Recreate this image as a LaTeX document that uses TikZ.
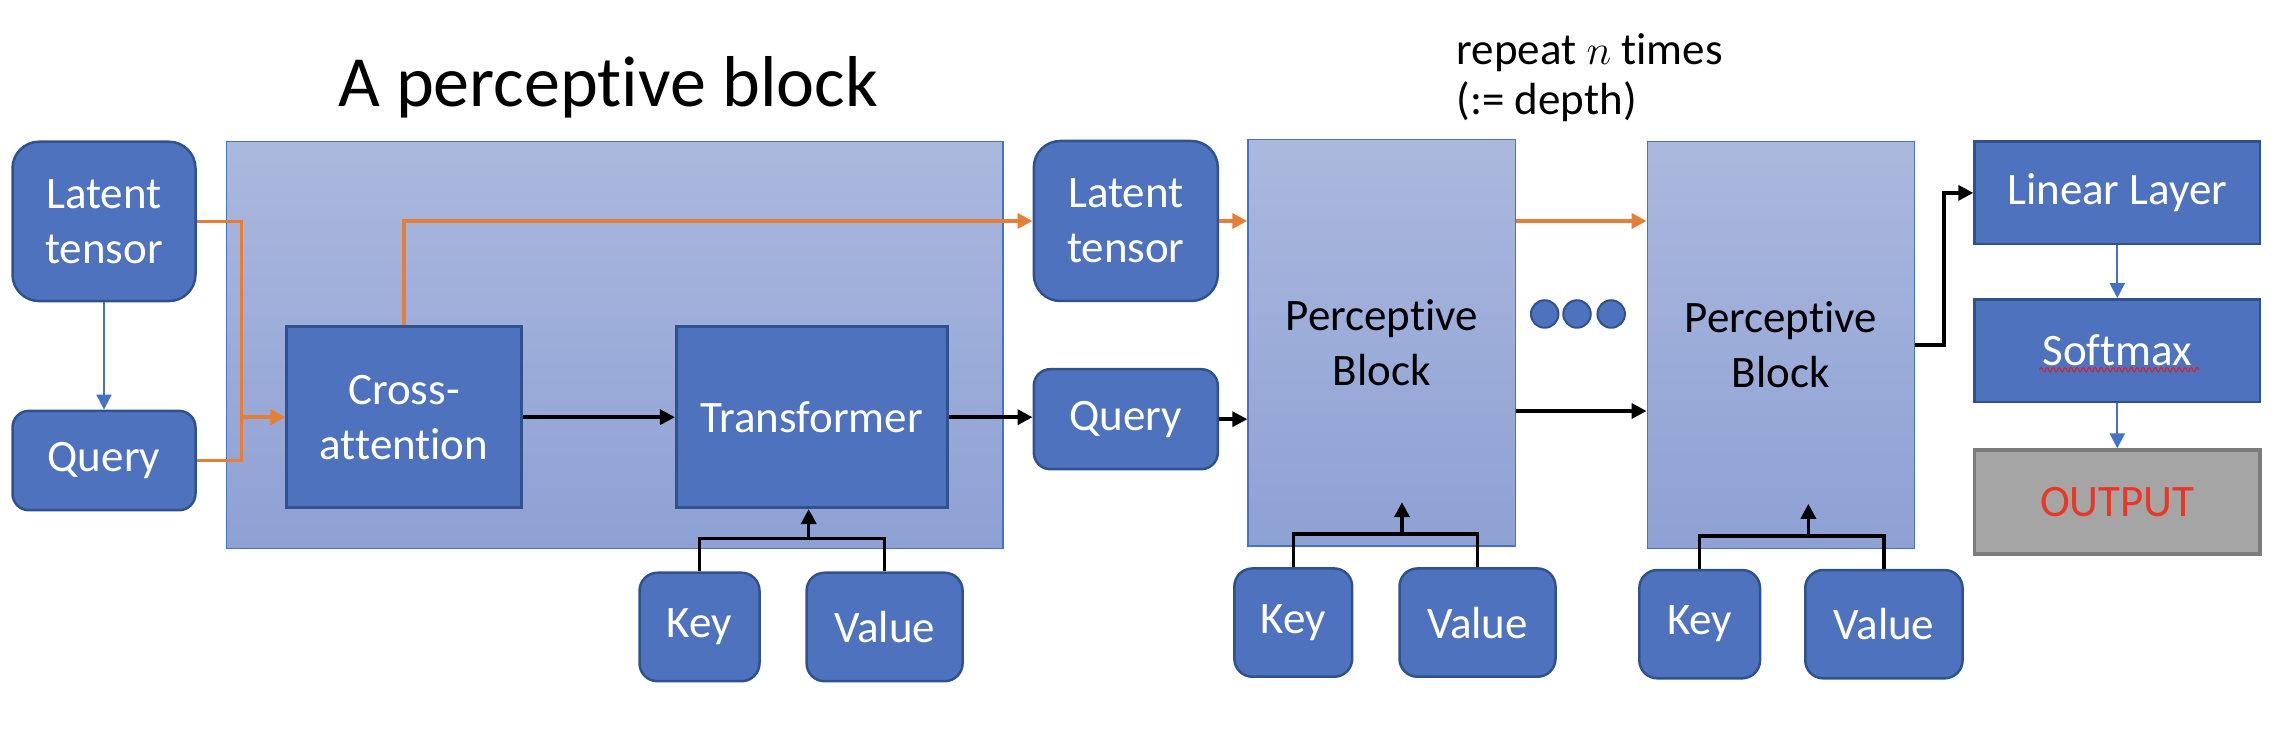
\documentclass[tikz,border=0pt]{standalone}
\usepackage{fontspec}
\setmainfont[Ligatures=NoCommon]{Carlito}
\usepackage{xcolor}
\usepackage{tikz}
\usetikzlibrary{calc,shapes,arrows.meta,positioning,decorations.pathmorphing}

\definecolor{boxfill}{RGB}{79,114,190}
\definecolor{boxdraw}{RGB}{47,82,143}
\definecolor{bgtop}{RGB}{171,184,222}
\definecolor{bgbot}{RGB}{142,161,212}
\definecolor{bgline}{RGB}{68,114,196}
\definecolor{orng}{RGB}{230,126,55}
\definecolor{outfill}{RGB}{165,165,165}
\definecolor{outdraw}{RGB}{124,124,124}
\definecolor{outred}{RGB}{233,55,38}
\definecolor{squig}{RGB}{225,30,30}

\newcommand{\blocktext}{\fontsize{12.8}{15.6}\selectfont}
\newcommand{\titletext}{\fontsize{20.5}{24}\selectfont}

\begin{document}
\begin{tikzpicture}
            [x=0.1mm, y=-0.1mm,
            rbox/.style ={draw=boxdraw, fill=boxfill, line width=0.25mm, text=white, align=center, inner sep=0pt, font=\blocktext},
            sbox/.style ={draw=boxdraw, fill=boxfill, line width=0.27mm, text=white, align=center, inner sep=0pt, font=\blocktext},
            bgbox/.style ={draw=bgline, line width=0.15mm, top color=bgtop, bottom color=bgbot, align=center, inner sep=0pt, font=\blocktext},
            dot/.style ={circle, draw=boxdraw, fill=boxfill, line width=0.2mm, minimum size=2.75mm, inner sep=0pt},
            ar/.style ={-{Triangle[length=1.5mm, width=1.5mm]}},
            oline/.style ={draw=orng, line width=0.35mm},
            bline/.style ={draw=black, line width=0.35mm},
            bluln/.style ={draw=bgline, line width=0.22mm}]
            \useasboundingbox (0,0) rectangle (2280,748);
            % first block and its contents
            \node[bgbox, minimum width=77.66mm, minimum height=40.68mm] (blk) at (614.7,345.1) {};
            \node[font=\titletext, anchor=base] (ttl) at (608,107) {A perceptive block};
            \node[rbox, rounded corners=2.65mm, minimum width=18.3mm, minimum height=15.93mm] (lat) at (104,221.4) {Latent\\tensor};
            \node[rbox, rounded corners=1.65mm, minimum width=18.3mm, minimum height=9.94mm] (qry) [below=10.73mm of lat] {Query};
            \node[sbox, minimum width=23.46mm, minimum height=18.1mm] (ca) at (404.1,417.2) {Cross-\\attention};
            \node[sbox, minimum width=27.09mm, minimum height=18.1mm] (tf) [right=15.22mm of ca] {Transformer};
            \node[rbox, rounded corners=1.8mm, minimum width=12mm, minimum height=10.85mm] (k1) at (699.5,627) {Key};
            \node[rbox, rounded corners=1.8mm, minimum width=15.6mm, minimum height=10.85mm] (v1) [right=4.46mm of k1] {Value};
            % stacked blocks
            \node[rbox, rounded corners=2.65mm, minimum width=18.4mm, minimum height=16mm] (lat2) at (1125.8,221) {Latent\\tensor};
            \node[rbox, rounded corners=1.65mm, minimum width=18.4mm, minimum height=10mm] (qry2) [below=6.57mm of lat2] {Query};
            \node[bgbox, minimum width=26.75mm, minimum height=40.67mm] (pb1) at (1381.8,342.7) {Perceptive\\Block};
            \node[rbox, rounded corners=1.8mm, minimum width=11.78mm, minimum height=10.83mm] (k2) at (1293.3,622.6) {Key};
            \node[rbox, rounded corners=1.8mm, minimum width=15.6mm, minimum height=10.83mm] (v2) [right=4.48mm of k2] {Value};
            \foreach \i/\x in {1/1544.7,2/1577,3/1611.2}
                \node[dot] (d\i) at (\x,314) {};
            \node[bgbox, minimum width=26.7mm, minimum height=40.7mm] (pb2) at (1780.8,344.8) {Perceptive\\Block};
            \node[rbox, rounded corners=1.8mm, minimum width=12.07mm, minimum height=10.83mm] (k3) at (1699.7,624.2) {Key};
            \node[rbox, rounded corners=1.8mm, minimum width=15.73mm, minimum height=10.83mm] (v3) [right=4.27mm of k3] {Value};
            \node[font=\blocktext, anchor=north west, align=left, inner sep=0pt] (rep) at (1456,33) {repeat $n$ times\\[-1.3pt](:= depth)};
            % head
            \node[sbox, minimum width=28.54mm, minimum height=10.23mm] (lin) at (2117.3,192.9) {Linear Layer};
            \node[sbox, minimum width=28.54mm, minimum height=10.26mm] (sm) [below=5.27mm of lin] {Softmax};
            \node[sbox, draw=outdraw, fill=outfill, text=outred, line width=0.33mm, minimum width=28.53mm, minimum height=10.4mm] (out) [below=4.5mm of sm] {OUTPUT};
            \draw[squig, line width=0.1mm, decorate, decoration={snake, amplitude=0.22mm, segment length=0.6mm}] ($(sm.center)+(-78,19)$) -- ($(sm.center)+(82,19)$);
            % latent path
            \coordinate (j) at (241.4,417.2);
            \draw[oline] (lat.east) -| (j) |- (qry.east);
            \draw[oline, ar] (j) -- (ca.west);
            \draw[oline, ar] (ca.north) |- (lat2.west);
            \draw[oline, ar] (lat2.east) -- (lat2.east -| pb1.west);
            \draw[oline, ar] (lat2.east -| pb1.east) -- (lat2.east -| pb2.west);
            % query path
            \draw[bluln, ar] (lat) to (qry);
            \draw[bline, ar] (ca) to (tf);
            \draw[bline, ar] (tf.east) -- (tf.east -| qry2.west);
            \draw[bline, ar] (qry2.east) -- (qry2.east -| pb1.west);
            \draw[bline, ar] (pb1.east |- 0,411) -- (pb2.west |- 0,411);
            \draw[bline, ar] (pb2.east) -| ($(pb2.east)!.5!(lin.west)$) |- (lin.west);
            \draw[bluln, ar] (lin) to (sm);
            \draw[bluln, ar] (sm) to (out);
            % keys and values
            \coordinate (t1) at ($(k1.north)!.59!(v1.north)+(0,-33)$);
            \draw[bline] (k1.north) -- ++(0,-33) -| (v1.north);
            \draw[bline, ar] (t1) -- (t1 |- tf.south);
            \draw[bline] (k2.north) -- ++(0,-33) -| (v2.north);
            \draw[bline, ar] ($(k2.north)!.59!(v2.north)+(0,-33)$) -- ++(0,-32);
            \draw[bline] (k3.north) -- ++(0,-33) -| (v3.north);
            \draw[bline, ar] ($(k3.north)!.59!(v3.north)+(0,-33)$) -- ++(0,-32);
        \end{tikzpicture}
\end{document}
